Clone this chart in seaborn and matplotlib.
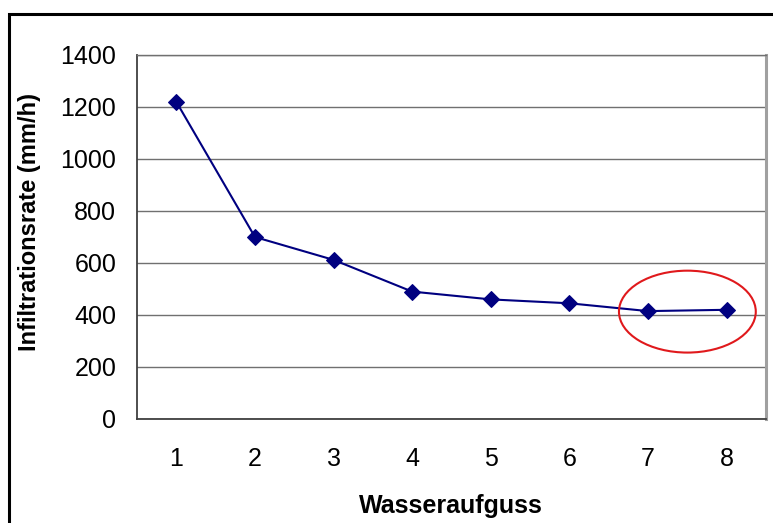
import numpy as np
import pandas as pd
import matplotlib
matplotlib.use("Agg")
import matplotlib.pyplot as plt
from matplotlib.patches import Ellipse, Rectangle
import seaborn as sns

# data
aufguss = [1, 2, 3, 4, 5, 6, 7, 8]
rate = [1220, 700, 612, 490, 460, 445, 415, 420]
y_ticks = [0, 200, 400, 600, 800, 1000, 1200, 1400]

sns.set_theme(style="white")
plt.rcParams["font.family"] = ["Liberation Sans", "DejaVu Sans"]
plt.rcParams["text.color"] = "black"
plt.rcParams["axes.labelcolor"] = "black"

W, H = 773, 523
fig = plt.figure(figsize=(W / 100, H / 100), dpi=100)
fig.patch.set_facecolor("white")

# outer chart frame (cut off at right/bottom like the reference)
fig.add_artist(Rectangle((9 / W, -0.05), 1.2, 1 - 14 / H + 0.05,
                         transform=fig.transFigure, fill=False,
                         edgecolor="black", lw=2.2))

ax = fig.add_axes([137 / W, 1 - 419 / H, 629 / W, 364 / H])
df = pd.DataFrame({"Wasseraufguss": aufguss, "Rate": rate})
sns.lineplot(data=df, x="Wasseraufguss", y="Rate", ax=ax, color="#000080",
             marker="D", markersize=8, markeredgecolor="#000080", lw=1.5)

ax.set_xlim(0.5, 8.5)
ax.set_ylim(0, 1400)
ax.set_yticks(y_ticks)
ax.set_yticklabels([str(v) for v in y_ticks], fontsize=18)
ax.set_xticks(aufguss)
ax.set_xticklabels([str(v) for v in aufguss], fontsize=18)
ax.set_xticks(np.arange(0.5, 9, 1), minor=True)
ax.tick_params(axis="x", which="major", length=0, pad=20, labelcolor="black")
ax.tick_params(axis="x", which="minor", length=8, width=1, color="#404040",
               direction="out")
ax.tick_params(axis="y", length=8, width=1, color="#404040", direction="out",
               pad=7, labelcolor="black")

ax.grid(axis="y", color="#707070", lw=1)
ax.set_axisbelow(True)
for s in ["left", "bottom"]:
    ax.spines[s].set_color("#404040")
    ax.spines[s].set_linewidth(1.3)
ax.spines["top"].set_color("#707070")
ax.spines["top"].set_linewidth(1)
ax.spines["right"].set_color("#a0a0a0")
ax.spines["right"].set_linewidth(2.2)

ax.set_xlabel("Wasseraufguss", fontsize=18, fontweight="bold")
ax.set_ylabel("Infiltrationsrate (mm/h)", fontsize=17, fontweight="bold")
ax.xaxis.set_label_coords(0.499, -0.205)
ax.yaxis.set_label_coords(-0.152, 0.54)

ax.add_patch(Ellipse((7.5, 413), 1.74, 315, fill=False, edgecolor="#e0191c",
                     lw=1.5, clip_on=False, zorder=5))

fig.savefig("out.png", dpi=100)
